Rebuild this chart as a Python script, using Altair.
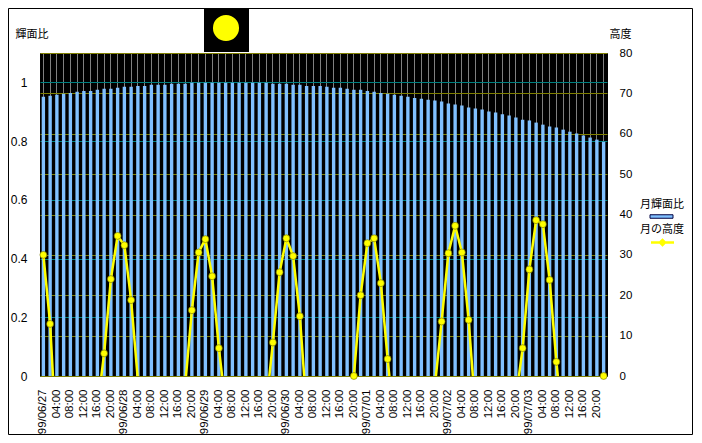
import altair as alt
import pandas as pd

# ---- data ----
days = ["99/06/27", "99/06/28", "99/06/29", "99/06/30", "99/07/01", "99/07/02", "99/07/03"]
hours = ["00:00", "02:00", "04:00", "06:00", "08:00", "10:00",
         "12:00", "14:00", "16:00", "18:00", "20:00", "22:00"]
times = [f"{d} {h}" for d in days for h in hours]

# 月輝面比 (illuminated fraction), every 2 hours
frac = [
    0.951, 0.954, 0.958, 0.961, 0.964, 0.968, 0.971, 0.971, 0.975, 0.978,
    0.978, 0.982, 0.985, 0.985, 0.988, 0.988, 0.992, 0.992, 0.992, 0.995,
    0.995, 0.995, 0.999, 0.999, 0.999, 0.999, 0.999, 0.999, 0.999, 0.999,
    0.999, 0.999, 0.999, 0.999, 0.995, 0.995, 0.995, 0.992, 0.992, 0.988,
    0.988, 0.988, 0.985, 0.982, 0.982, 0.978, 0.975, 0.975, 0.971, 0.968,
    0.964, 0.961, 0.958, 0.954, 0.951, 0.947, 0.944, 0.941, 0.938, 0.935,
    0.928, 0.925, 0.921, 0.914, 0.911, 0.908, 0.901, 0.897, 0.891, 0.887,
    0.880, 0.873, 0.870, 0.863, 0.856, 0.850, 0.846, 0.839, 0.832, 0.826,
    0.819, 0.812, 0.805, 0.798,
]

# 月の高度 (moon altitude, degrees), every 2 hours
altitude = [
    30.0, 12.9, -18, -30, -40, -45, -40, -30, -8, 5.6,
    24.0, 34.7, 32.4, 18.8, -1, -15, -30, -42, -46, -40,
    -28, -2.4, 16.3, 30.6, 33.9, 24.7, 6.9, -7.5, -22, -36,
    -45, -44, -32, -7.7, 8.3, 25.7, 34.1, 29.7, 14.8, -8.4,
    -24, -38, -46, -44, -34, -15, 0.0, 20.0, 32.9, 34.1,
    23.0, 4.2, -12, -28, -40, -46, -42, -30, -2.5, 13.5,
    30.4, 37.2, 30.6, 13.9, -8.4, -25, -38, -45, -44, -34,
    -5.7, 6.9, 26.4, 38.6, 37.6, 23.8, 3.5, -13, -28, -40,
    -46, -42, -30, 0.0,
]

s1 = "月輝面比"
s2 = "月の高度"

df = pd.DataFrame({"time": times, "frac": frac, "alt": altitude})
df["s1"] = s1
df["s2"] = s2

JP = "Noto Sans CJK JP"
NUM = "Liberation Sans"

label_expr = ("substring(datum.value, 9) == '00:00' ? substring(datum.value, 0, 8) : "
              "(toNumber(substring(datum.value, 9, 11)) % 4 == 0 ? substring(datum.value, 9) : '')")

x = alt.X(
    "time:N", sort=None,
    scale=alt.Scale(paddingInner=0.5, paddingOuter=0.25),
    axis=alt.Axis(title=None, labelAngle=270, labelExpr=label_expr, labelOverlap=False,
                  ticks=False, tickSize=0, domain=False, grid=True, gridColor="#808080",
                  gridWidth=1, labelPadding=13, labelFont=NUM, labelFontSize=11.5,
                  labelColor="black", zindex=0),
)

y_frac = alt.Y(
    "frac:Q",
    scale=alt.Scale(domain=[0, 1.1], nice=False, zero=True),
    axis=alt.Axis(orient="left", values=[0, 0.2, 0.4, 0.6, 0.8, 1.0],
                  labelExpr="toString(round(datum.value * 10) / 10)",
                  title="輝面比", titleAngle=0, titleX=-25, titleY=-16, titleAlign="left",
                  titleBaseline="alphabetic", titleFont=JP, titleFontSize=11,
                  titleFontWeight="normal", titleColor="black",
                  grid=True, gridColor="#008080", gridWidth=1, ticks=False, tickSize=0,
                  domain=False, labelPadding=13, labelFont=NUM, labelFontSize=12,
                  labelColor="black", zindex=0),
)

y_alt = alt.Y(
    "alt:Q",
    scale=alt.Scale(domain=[0, 80], nice=False, zero=True),
    axis=alt.Axis(orient="right", values=list(range(0, 81, 10)),
                  title="高度", titleAngle=0, titleX=2, titleY=-16, titleAlign="left",
                  titleBaseline="alphabetic", titleFont=JP, titleFontSize=11,
                  titleFontWeight="normal", titleColor="black",
                  grid=True, gridColor="#808000", gridWidth=1, ticks=False, tickSize=0,
                  domain=False, labelPadding=12, labelFont=NUM, labelFontSize=11.5,
                  labelColor="black", zindex=0),
)

bars = alt.Chart(df).mark_bar().encode(
    x=x,
    y=y_frac,
    color=alt.Color(
        "s1:N",
        scale=alt.Scale(domain=[s1], range=["#80C0FF"]),
        legend=alt.Legend(title=s1, orient="none", legendX=600, legendY=146,
                          labelExpr="''", labelFontSize=8, labelOffset=0,
                          symbolType="M-2.3,-0.35H2.3V0.35H-2.3Z", symbolSize=100,
                          symbolOffset=16, symbolStrokeColor="#000040",
                          symbolStrokeWidth=1, symbolOpacity=1,
                          titleFont=JP, titleFontSize=11,
                          titleFontWeight="normal", titleColor="black", titlePadding=1,
                          padding=0),
    ),
)

line = alt.Chart(df).mark_line(clip=True, strokeWidth=2.5).encode(
    x=x,
    y=y_alt,
    stroke=alt.Stroke(
        "s2:N",
        scale=alt.Scale(domain=[s2], range=["#FFFF00"]),
        legend=alt.Legend(title=s2, orient="none", legendX=600, legendY=171,
                          labelExpr="''", labelFontSize=8, labelOffset=0,
                          symbolType=("M-2.3,0H2.3M-0.5,0L0,-0.5L0.5,0L0,0.5Z"
                                      "M-0.3,0L0,-0.3L0.3,0L0,0.3Z"),
                          symbolSize=100, symbolOffset=16, symbolStrokeWidth=2.5,
                          symbolFillColor="#FFFF00", symbolOpacity=1,
                          titleFont=JP, titleFontSize=11,
                          titleFontWeight="normal", titleColor="black", titlePadding=1,
                          padding=0),
    ),
)

points = alt.Chart(df).transform_filter("datum.alt >= 0").mark_circle(
    size=48, fill="#FFFF00", opacity=1, stroke="#6E6E00", strokeWidth=0.6
).encode(x=x, y=y_alt)

alt_layer = alt.layer(line, points)

one = alt.Data(values=[{}])
moon_box = alt.Chart(one).mark_rect(fill="black").encode(
    x=alt.value(164), x2=alt.value(209), y=alt.value(-45), y2=alt.value(-1)
)
moon = alt.Chart(one).mark_circle(fill="#FFFF00", opacity=1, size=680).encode(
    x=alt.value(186), y=alt.value(-25)
)
border = alt.Chart(one).mark_rect(filled=False, stroke="black", strokeWidth=1).encode(
    x=alt.value(-31.5), x2=alt.value(652.5), y=alt.value(-44.5), y2=alt.value(381.5)
)

chart = alt.layer(bars, alt_layer, moon_box, moon, border).resolve_scale(
    y="independent"
).properties(
    width=567, height=323,
    autosize=alt.AutoSizeParams(type="none"),
    padding={"left": 32, "top": 45, "right": 86, "bottom": 59},
    background="white",
).configure_view(fill="black", stroke="black")

chart.save("out.html", embed_options={"renderer": "svg", "actions": False})
